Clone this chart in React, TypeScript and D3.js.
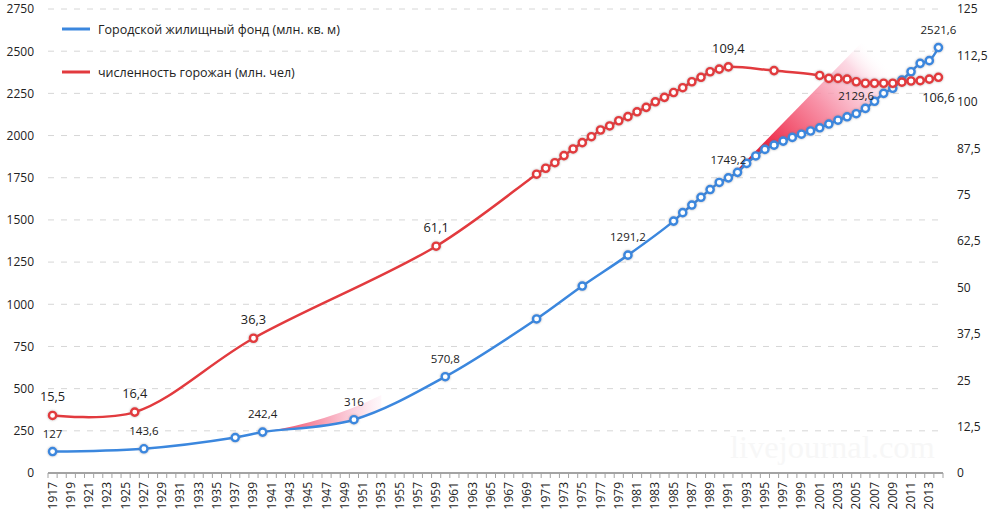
import React from 'react';
import * as d3 from 'd3';

// ---------- data ----------
const years: number[] = d3.range(1917, 2015);

const housingYears = [1917, 1927, 1937, 1940, 1950, 1960, 1970, 1975, 1980,
  1985, 1986, 1987, 1988, 1989, 1990, 1991, 1992, 1993, 1994, 1995, 1996, 1997, 1998, 1999,
  2000, 2001, 2002, 2003, 2004, 2005, 2006, 2007, 2008, 2009, 2010, 2011, 2012, 2013, 2014];
const housingValues = [127, 143.6, 210, 242.4, 316, 570.8, 913, 1108, 1291.2,
  1493, 1543, 1588, 1634, 1680, 1722, 1749.2, 1782, 1835, 1879, 1918, 1943, 1967, 1989, 2008,
  2027, 2046, 2068, 2091, 2111, 2129.6, 2161, 2203, 2250, 2280, 2329, 2378, 2428, 2444, 2521.6];

const popYears = [1917, 1926, 1939, 1959,
  1970, 1971, 1972, 1973, 1974, 1975, 1976, 1977, 1978, 1979, 1980, 1981, 1982, 1983, 1984,
  1985, 1986, 1987, 1988, 1989, 1990, 1991, 1996,
  2001, 2002, 2003, 2004, 2005, 2006, 2007, 2008, 2009, 2010, 2011, 2012, 2013, 2014];
const popValues = [15.5, 16.4, 36.3, 61.1,
  80.5, 82.1, 83.6, 85.5, 87.3, 89.0, 90.6, 92.4, 93.5, 94.9, 96.0, 97.3, 98.5, 100.0, 101.2,
  102.5, 103.8, 105.4, 106.6, 108.1, 108.8, 109.4, 108.4,
  107.1, 106.3, 106.3, 106.1, 105.4, 105.0, 105.0, 105.0, 105.0, 105.3, 105.6, 105.7, 106.1, 106.6];

const leftTicks = [0, 250, 500, 750, 1000, 1250, 1500, 1750, 2000, 2250, 2500, 2750];
const rightTicks = [0, 12.5, 25, 37.5, 50, 62.5, 75, 87.5, 100, 112.5, 125];

const housingLabelYears = [1917, 1927, 1940, 1950, 1960, 1980, 1991, 2005, 2014];
const popLabelYears = [1917, 1926, 1939, 1959, 1991, 2014];
const popLabelsBelow = [2014];

const legendNames = ['Городской жилищный фонд (млн. кв. м)', 'численность горожан (млн. чел)'];
const watermark = 'livejournal.com';

// ---------- styles ----------
const BLUE = '#3b87de';
const RED = '#e23a3e';
const FONT = '"Open Sans", "Noto Sans", sans-serif';

const fmt = (v: number) => String(v).replace('.', ',');

export default function App() {
  const W = 995, H = 515;
  const left = 48, right = 943, top = 9, bottom = 473;

  const x = d3.scaleBand<number>().domain(years).range([left, right]).padding(0);
  const cx = (yr: number) => (x(yr) as number) + x.bandwidth() / 2;
  const yL = d3.scaleLinear().domain([0, 2750]).range([bottom, top]);
  const yR = d3.scaleLinear().domain([0, 125]).range([bottom, top]);

  const housing = housingYears.map((yr, i) => ({ yr, v: housingValues[i] }));
  const pop = popYears.map((yr, i) => ({ yr, v: popValues[i] }));

  const curve = d3.curveCatmullRom.alpha(0.5);
  const blueLine = d3.line<{ yr: number; v: number }>().x(d => cx(d.yr)).y(d => yL(d.v)).curve(curve);
  const redLine = d3.line<{ yr: number; v: number }>().x(d => cx(d.yr)).y(d => yR(d.v)).curve(curve);
  const aboveBlue = d3.area<{ yr: number; v: number }>()
    .x(d => cx(d.yr)).y0(0).y1(d => yL(d.v)).curve(curve);

  // decorative wedges anchored on data
  const hv = (yr: number) => housingValues[housingYears.indexOf(yr)];
  const w1s: [number, number] = [cx(1940), yL(hv(1940))];
  const w1e: [number, number] = [cx(1953), yL(462)];
  const wedge1 = `M${w1s[0]},${w1s[1]} Q${cx(1947)},${yL(300)} ${w1e[0]},${w1e[1]} L${w1e[0]},${bottom} L${w1s[0]},${bottom} Z`;
  const w2s: [number, number] = [cx(1991) + 3, yL(hv(1991)) - 2];
  const w2t: [number, number] = [cx(2005) + 5, yL(2548)];
  const wedge2 = `M${w2s[0]},${w2s[1]} L${w2t[0]},${w2t[1]} L${cx(2008)},${yL(2520)} L${cx(2010)},${yL(2420)} L${cx(2010)},${bottom} L${w2s[0]},${bottom} Z`;

  const boundaries = d3.range(0, years.length + 1).map(i => left + i * x.bandwidth());

  return (
    <div style={{ position: 'absolute', left: 0, top: 0 }}>
      <svg width={W} height={H} style={{ display: 'block', background: '#fff' }} fontFamily={FONT}>
        <defs>
          <clipPath id="aboveBlue">
            <path d={aboveBlue(housing) || ''} />
          </clipPath>
          <linearGradient id="g1" gradientUnits="userSpaceOnUse" x1={w1s[0]} y1={0} x2={w1e[0]} y2={0}>
            <stop offset="0" stopColor="#ee2a48" stopOpacity={1} />
            <stop offset="0.45" stopColor="#f6869e" stopOpacity={0.9} />
            <stop offset="0.8" stopColor="#fbd0de" stopOpacity={0.8} />
            <stop offset="1" stopColor="#fdf0f6" stopOpacity={0.5} />
          </linearGradient>
          <linearGradient id="g2" gradientUnits="userSpaceOnUse" x1={w2s[0]} y1={w2s[1]} x2={w2t[0] + 10} y2={w2t[1] + 5}>
            <stop offset="0" stopColor="#c80018" stopOpacity={1} />
            <stop offset="0.25" stopColor="#ee2a48" stopOpacity={1} />
            <stop offset="0.6" stopColor="#f7879f" stopOpacity={0.9} />
            <stop offset="0.85" stopColor="#fbc8d8" stopOpacity={0.7} />
            <stop offset="1" stopColor="#ffffff" stopOpacity={0} />
          </linearGradient>
          <filter id="glow" x="-50%" y="-50%" width="200%" height="200%">
            <feDropShadow dx="0" dy="0" stdDeviation="1.2" floodColor="#666" floodOpacity="0.55" />
          </filter>
        </defs>

        {/* gridlines */}
        {leftTicks.filter(t => t > 0).map(t => (
          <line key={t} x1={left} x2={right} y1={yL(t)} y2={yL(t)}
            stroke="#d6d6d6" strokeWidth={1} strokeDasharray="6,7" />
        ))}

        {/* watermark */}
        <text x={730} y={458} fontFamily='"Liberation Serif", "DejaVu Serif", serif' fontSize={32.5} fill="#f7f7f7">{watermark}</text>

        {/* left axis labels */}
        {leftTicks.map(t => (
          <text key={t} x={34} y={yL(t)} dy="0.36em" textAnchor="end" fontSize={12} fill="#222">{t}</text>
        ))}
        {/* right axis labels */}
        {rightTicks.map(t => (
          <text key={t} x={957} y={yR(t)} dy="0.36em" textAnchor="start" fontSize={12} fill="#222">{fmt(t)}</text>
        ))}

        {/* x axis */}
        <line x1={left} x2={right} y1={bottom} y2={bottom} stroke="#a3a3a3" strokeWidth={2} />
        {boundaries.map((bx, i) => (
          <line key={i} x1={bx} x2={bx} y1={bottom} y2={bottom + 5} stroke="#a3a3a3" strokeWidth={1} />
        ))}
        {years.filter((yr, i) => i % 2 === 0).map(yr => (
          <text key={yr} transform={`translate(${cx(yr) + 4},${bottom + 9}) rotate(-90)`}
            textAnchor="end" fontSize={12} fill="#222">{yr}</text>
        ))}

        {/* decorative wedges */}
        <g clipPath="url(#aboveBlue)">
          <path d={wedge1} fill="url(#g1)" />
          <path d={wedge2} fill="url(#g2)" />
        </g>

        {/* housing series */}
        <path d={blueLine(housing) || ''} fill="none" stroke={BLUE} strokeWidth={2.5} />
        <g filter="url(#glow)">
          {housing.map(d => (
            <circle key={d.yr} cx={cx(d.yr)} cy={yL(d.v)} r={3.6} fill="#fff" stroke={BLUE} strokeWidth={2.4} />
          ))}
        </g>

        {/* population series */}
        <path d={redLine(pop) || ''} fill="none" stroke={RED} strokeWidth={2.5} />
        <g filter="url(#glow)">
          {pop.map(d => (
            <circle key={d.yr} cx={cx(d.yr)} cy={yR(d.v)} r={3.6} fill="#fff" stroke={RED} strokeWidth={2.4} />
          ))}
        </g>

        {/* data labels */}
        {housing.filter(d => housingLabelYears.includes(d.yr)).map(d => (
          <text key={d.yr} x={cx(d.yr)} y={yL(d.v) - 14} textAnchor="middle" fontSize={11.5} fill="#222">{fmt(d.v)}</text>
        ))}
        {pop.filter(d => popLabelYears.includes(d.yr)).map(d => (
          <text key={d.yr} x={cx(d.yr)} y={popLabelsBelow.includes(d.yr) ? yR(d.v) + 25 : yR(d.v) - 14}
            textAnchor="middle" fontSize={12.8} fill="#222">{fmt(d.v)}</text>
        ))}

        {/* legend */}
        {legendNames.map((name, i) => (
          <g key={name} transform={`translate(0,${29 + i * 43})`}>
            <line x1={62} x2={90} y1={0} y2={0} stroke={i === 0 ? BLUE : RED} strokeWidth={3} />
            <text x={98} y={0} dy="0.36em" fontSize={12.5} fill="#222">{name}</text>
          </g>
        ))}
      </svg>
    </div>
  );
}
